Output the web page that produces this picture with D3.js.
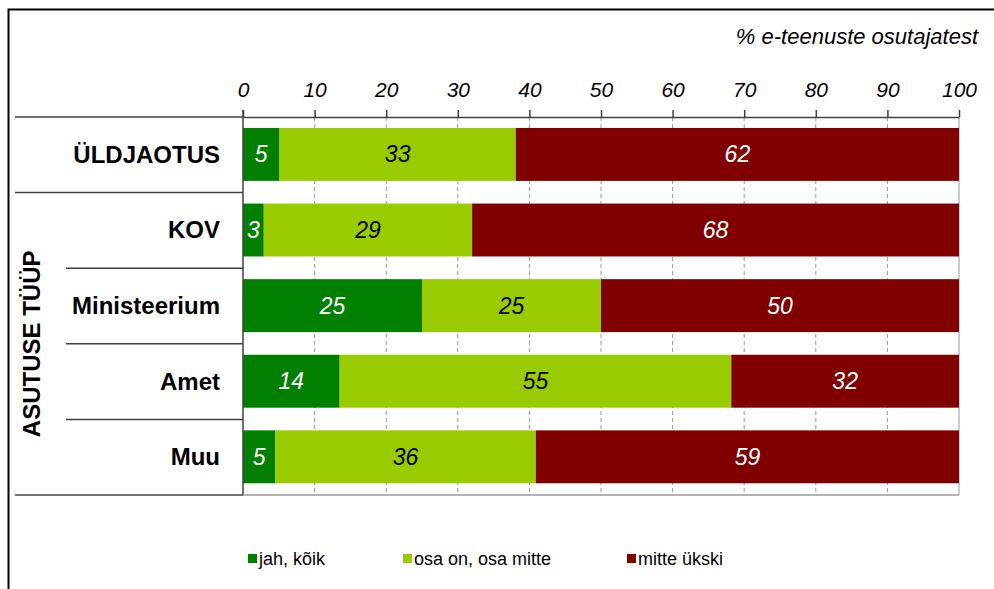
<!DOCTYPE html>
<html>
<head>
<meta charset="utf-8">
<script src="https://cdn.jsdelivr.net/npm/d3@7"></script>
<style>
  body { margin: 0; background: #fff; }
  svg { font-family: "Liberation Sans", Arial, sans-serif; }
</style>
</head>
<body>
<div id="chart"></div>
<script>
// data
const categories = ["ÜLDJAOTUS", "KOV", "Ministeerium", "Amet", "Muu"];
const seriesNames = ["jah, kõik", "osa on, osa mitte", "mitte ükski"];
const jahKoik = [5.1, 2.9, 25, 13.5, 4.5];
const osaOn = [33.0, 29.1, 25, 54.7, 36.4];
const mitteYkski = [61.9, 68.0, 50, 31.8, 59.1];
const tickValues = [0, 10, 20, 30, 40, 50, 60, 70, 80, 90, 100];
const colors = ["#007f00", "#99cc00", "#800000"];
const labelColors = ["#ffffff", "#000000", "#ffffff"];

const W = 994, H = 589;
const plot = { left: 243, right: 959, top: 117, bottom: 495 };

const svg = d3.select("#chart").append("svg").attr("width", W).attr("height", H);

// outer frame
svg.append("rect")
    .attr("x", 8.5).attr("y", 9.5)
    .attr("width", W).attr("height", H)
    .attr("fill", "none").attr("stroke", "#000").attr("stroke-width", 2);

const x = d3.scaleLinear().domain([0, 100]).range([plot.left, plot.right]);
const bandH = (plot.bottom - plot.top) / categories.length;
const bandTop = (c) => plot.top + categories.indexOf(c) * bandH;

// gridlines
svg.append("g")
    .selectAll("line")
    .data(tickValues.slice(1))
    .join("line")
    .attr("x1", (d) => x(d)).attr("x2", (d) => x(d))
    .attr("y1", plot.top).attr("y2", plot.bottom)
    .attr("stroke", "#999")
    .attr("stroke-dasharray", (d) => (d === 100 ? null : "4,3"));

// stacked bars
const rows = categories.map((c, i) => ({ cat: c, vals: [jahKoik[i], osaOn[i], mitteYkski[i]] }));
const segs = [];
rows.forEach((r) => {
    let acc = 0;
    r.vals.forEach((v, k) => {
        segs.push({ cat: r.cat, k: k, x0: acc, x1: acc + v, v: v });
        acc += v;
    });
});

const yPos = (c) => bandTop(c) + bandH * 0.145;
const barH = bandH * 0.7;

svg.append("g")
    .selectAll("rect")
    .data(segs)
    .join("rect")
    .attr("x", (d) => x(d.x0))
    .attr("y", (d) => yPos(d.cat))
    .attr("width", (d) => x(d.x1) - x(d.x0))
    .attr("height", barH)
    .attr("fill", (d) => colors[d.k]);

svg.append("g")
    .selectAll("text")
    .data(segs)
    .join("text")
    .attr("x", (d) => (x(d.x0) + x(d.x1)) / 2)
    .attr("y", (d) => yPos(d.cat) + barH / 2 + 8)
    .attr("text-anchor", "middle")
    .attr("font-size", 23)
    .attr("font-style", "italic")
    .attr("fill", (d) => labelColors[d.k])
    .text((d) => Math.round(d.v));

// top axis
const axis = svg.append("g")
    .attr("transform", `translate(0,${plot.top})`)
    .call(d3.axisTop(x).tickValues(tickValues).tickSize(7).tickSizeOuter(0).tickPadding(13));
axis.select(".domain").attr("stroke", "#404040").attr("stroke-width", 1.5);
axis.selectAll(".tick line").attr("stroke", "#404040").attr("stroke-width", 1.5);
axis.selectAll(".tick text")
    .attr("font-size", 21).attr("font-style", "italic")
    .attr("font-family", "'Liberation Sans', Arial, sans-serif")
    .attr("fill", "#000");

// left axis line
svg.append("line")
    .attr("x1", plot.left).attr("x2", plot.left)
    .attr("y1", plot.top - 7).attr("y2", plot.bottom)
    .attr("stroke", "#404040").attr("stroke-width", 1.5);

// bottom gray line
svg.append("line")
    .attr("x1", plot.left).attr("x2", plot.right)
    .attr("y1", plot.bottom).attr("y2", plot.bottom)
    .attr("stroke", "#999").attr("stroke-width", 1.5);

// category separators
const seps = d3.range(categories.length + 1).map((i) => plot.top + i * bandH);
svg.append("g")
    .selectAll("line")
    .data(seps)
    .join("line")
    .attr("x1", (d, i) => (i <= 1 || i === categories.length ? 15 : 66))
    .attr("x2", plot.left)
    .attr("y1", (d) => d).attr("y2", (d) => d)
    .attr("stroke", "#404040").attr("stroke-width", 1.5);

// category labels
svg.append("g")
    .selectAll("text")
    .data(categories)
    .join("text")
    .attr("x", 220)
    .attr("y", (d) => bandTop(d) + bandH / 2 + 8)
    .attr("text-anchor", "end")
    .attr("font-size", 24)
    .attr("font-weight", "bold")
    .text((d) => d);

// group label
svg.append("text")
    .attr("transform", `translate(40,${plot.top + bandH + (plot.bottom - plot.top - bandH) / 2}) rotate(-90)`)
    .attr("text-anchor", "middle")
    .attr("font-size", 24)
    .attr("font-weight", "bold")
    .text("ASUTUSE TÜÜP");

// axis title
svg.append("text")
    .attr("x", 978).attr("y", 44)
    .attr("text-anchor", "end")
    .attr("font-size", 22)
    .attr("font-style", "italic")
    .text("% e-teenuste osutajatest");

// legend
const legendX = [248, 403, 627];
const legend = svg.append("g")
    .selectAll("g")
    .data(seriesNames)
    .join("g")
    .attr("transform", (d, i) => `translate(${legendX[i]},559)`);
legend.append("rect")
    .attr("x", 0).attr("y", -5).attr("width", 9).attr("height", 9)
    .attr("fill", (d, i) => colors[i]);
legend.append("text")
    .attr("x", 11).attr("y", 6)
    .attr("font-size", 18)
    .text((d) => d);
</script>
</body>
</html>
